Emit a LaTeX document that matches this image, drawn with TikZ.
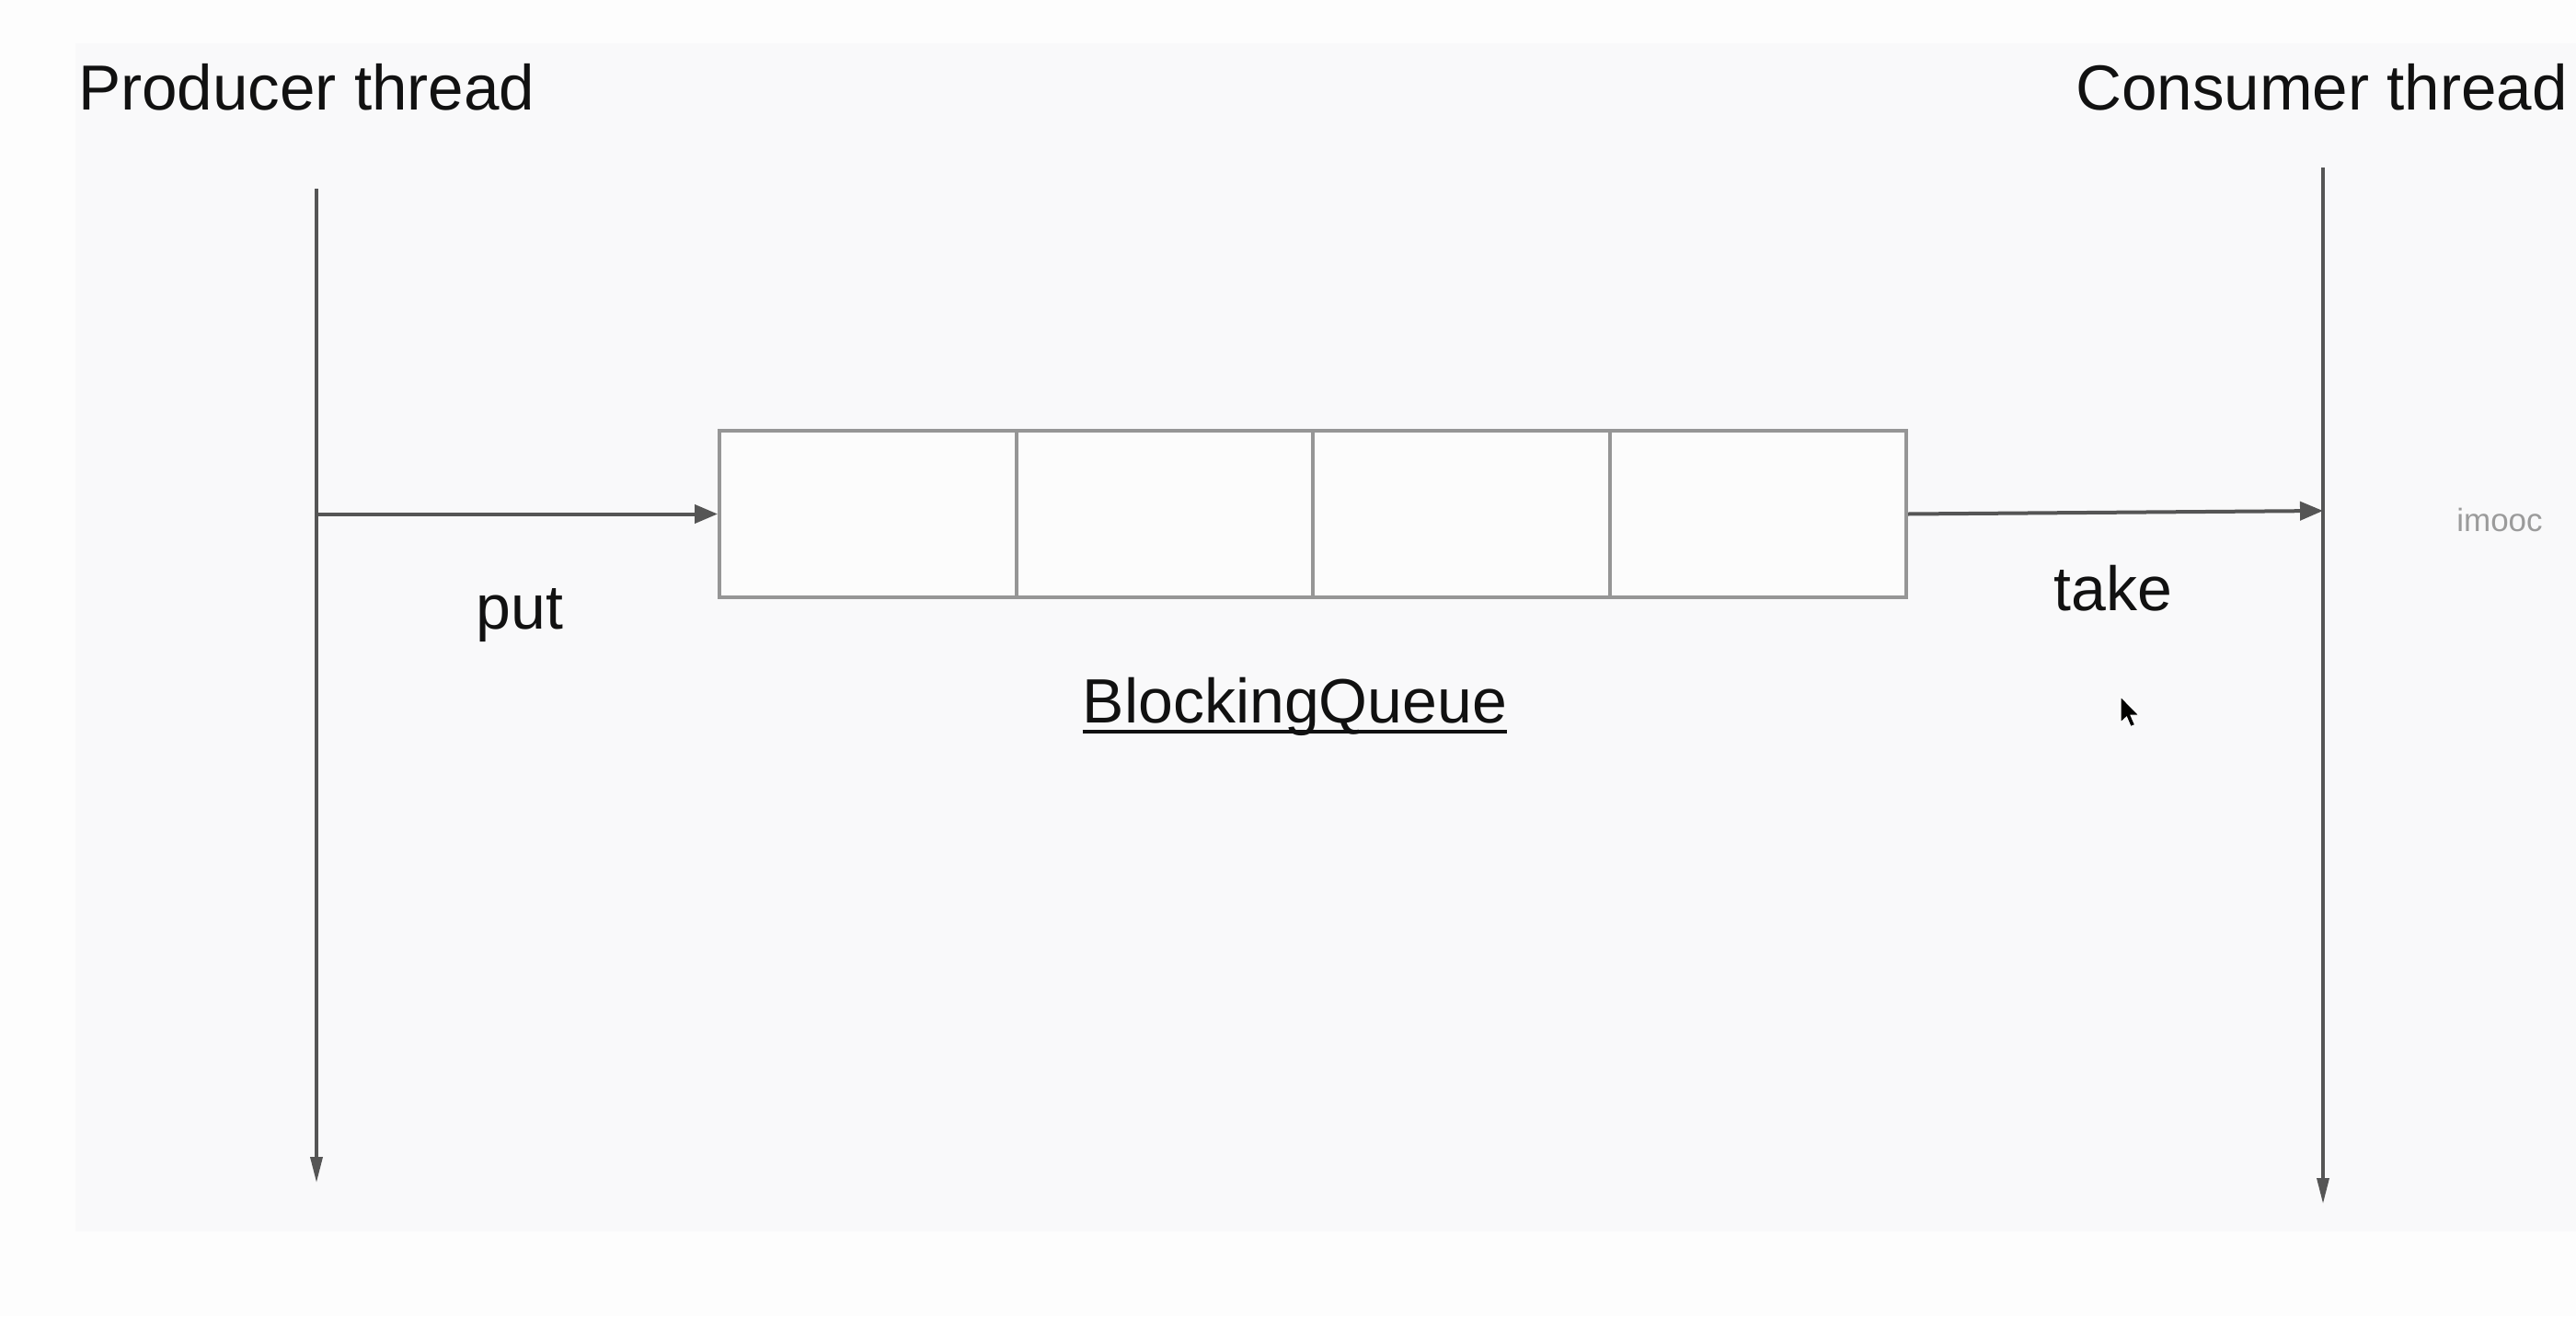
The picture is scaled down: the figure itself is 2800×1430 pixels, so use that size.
\documentclass[tikz,border=0pt]{standalone}
\usepackage{fontspec}
\setmainfont{Liberation Sans}
\usetikzlibrary{arrows.meta}
\definecolor{bgout}{RGB}{253,253,253}
\definecolor{panel}{RGB}{249,249,250}
\definecolor{cellfill}{RGB}{252,252,252}
\definecolor{linegray}{RGB}{85,85,85}
\definecolor{boxgray}{RGB}{150,150,150}
\definecolor{txt}{RGB}{17,17,17}
\definecolor{wm}{RGB}{155,155,155}
\begin{document}
\begin{tikzpicture}[x=1pt,y=-1pt,
  cell/.style={draw=boxgray,line width=4pt,fill=cellfill,minimum width=322.5pt,minimum height=181pt,inner sep=0pt},
  bigtext/.style={inner sep=0pt,text=txt,font=\fontsize{69.2}{83}\selectfont},
  labeltext/.style={inner sep=0pt,text=txt,font=\fontsize{68}{82}\selectfont},
  flowarrow/.style={draw=linegray,line width=4pt,-{Triangle[length=25pt,width=20pt]}},
  lifeline/.style={draw=linegray,line width=3.5pt,-{Triangle[length=28pt,width=13pt]}}]
\useasboundingbox (0,0) rectangle (2800,1430);
\fill[bgout] (0,0) rectangle (2800,1430);
\fill[panel] (82,47) rectangle (2800,1338);

% thread titles
\node[bigtext,anchor=base west] (prod) at (85,119) {Producer thread};
\node[bigtext,anchor=base west] (cons) at (2256,119) {Consumer thread};

% lifelines
\coordinate (pTop) at (344,205);
\coordinate (pBot) at (344,1285);
\coordinate (cTop) at (2525,182);
\coordinate (cBot) at (2525,1308);
\draw[lifeline] (pTop) -- (pBot);
\draw[lifeline] (cTop) -- (cBot);

% queue cells
\node[cell] (c1) at (943.25,558.5) {};
\node[cell] (c2) at (1265.75,558.5) {};
\node[cell] (c3) at (1588.25,558.5) {};
\node[cell] (c4) at (1910.75,558.5) {};

% put / take arrows
\coordinate (pPut) at (344,558.5);
\coordinate (cTake) at (2525,555);
\draw[flowarrow] (pPut) -- (c1.west);
\draw[flowarrow] (c4.east) -- (cTake);

% labels
\node[labeltext,anchor=base] (put) at (565,683) {put};
\node[labeltext,anchor=base] (take) at (2297,663) {take};
\node[labeltext,anchor=base] (bq) at (1407.5,785) {BlockingQueue};
\draw[txt,line width=4.5pt] ([yshift=-10pt]bq.base west) -- ([yshift=-10pt]bq.base east);

% watermark
\node[inner sep=0pt,text=wm,font=\fontsize{35}{42}\selectfont,anchor=base] (wmk) at (2717,577) {imooc};

% mouse cursor
\fill[black,draw=white,line width=1pt] (2305,757) -- ++(0,28) -- ++(6.5,-6) -- ++(4.5,10.5) -- ++(4.5,-2) -- ++(-4.5,-10.3) -- ++(9,0) -- cycle;
\end{tikzpicture}
\end{document}
